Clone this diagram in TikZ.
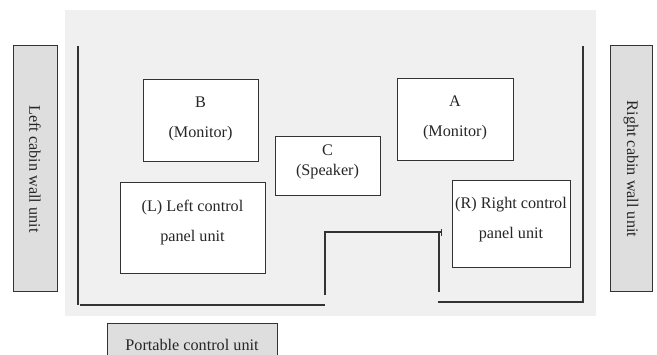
\documentclass[tikz,border=0pt]{standalone}
\usepackage{fontspec}
\setmainfont{Liberation Serif}
\begin{document}
\begin{tikzpicture}[x=1pt,y=-1pt,
  unit/.style={draw=black!80,line width=1pt,fill=white,inner sep=0pt},
  utext/.style={align=center,text=black!85,inner sep=0pt,font=\fontsize{16.2}{30}\selectfont},
  wallunit/.style={draw=black!80,line width=1pt,fill=black!13,inner sep=0pt},
  wtext/.style={text=black!85,font=\fontsize{16.2}{18}\selectfont},
  wall/.style={draw=black!80,line width=1.2pt}]
\useasboundingbox (0,0) rectangle (657,355);
\fill[black!6] (65,10) rectangle (596,316);
% wall units
\node[wallunit,minimum width=44pt,minimum height=246pt] (lw) at (35,169) {};
\node[wtext,rotate=-90] (lwt) at (lw.center) {Left cabin wall unit};
\node[wallunit,minimum width=42pt,minimum height=246pt] (rw) at (631,169) {};
\node[wtext,rotate=-90] (rwt) at (rw.center) {Right cabin wall unit};
% cabin walls
\coordinate (l1) at (78,46);
\coordinate (l2) at (78,305);
\coordinate (l3) at (80,305);
\coordinate (l4) at (325,305);
\draw[wall] (l1) -- (l2);
\draw[wall] (l3) -- (l4);
\coordinate (m1) at (325,295);
\coordinate (m2) at (325,232);
\coordinate (m3) at (441,232);
\coordinate (m4) at (439,232);
\coordinate (m5) at (439,292);
\coordinate (t1) at (441,229);
\coordinate (t2) at (441,236);
\draw[wall] (m1) -- (m2) -- (m3);
\draw[wall] (m4) -- (m5);
\draw[draw=black!80,line width=0.8pt] (t1) -- (t2);
\coordinate (r1) at (438,302);
\coordinate (r2) at (583,302);
\coordinate (r3) at (583,46);
\draw[wall] (r1) -- (r2) -- (r3);
% boxes
\node[unit,minimum width=115pt,minimum height=82pt] (B) at (200.5,121) {};
\node[utext,yshift=2.5pt] (Bt) at (B.center) {B\\(Monitor)};
\node[unit,minimum width=116pt,minimum height=82pt] (A) at (455,120) {};
\node[utext,yshift=2pt] (At) at (A.center) {A\\(Monitor)};
\node[unit,minimum width=105pt,minimum height=59pt] (C) at (327.5,166.5) {};
\node[utext,yshift=4.5pt,font=\fontsize{16.2}{20}\selectfont] (Ct) at (C.center) {C\\(Speaker)};
\node[unit,minimum width=145pt,minimum height=91pt] (L) at (192.5,228.5) {};
\node[utext,yshift=6pt] (Lt) at (L.center) {(L) Left control\\panel unit};
\node[unit,minimum width=118pt,minimum height=87pt] (R) at (511,224.5) {};
\node[utext,yshift=4.5pt] (Rt) at (R.center) {(R) Right control\\panel unit};
\node[wallunit,minimum width=170pt,minimum height=44pt,anchor=north west] (P) at (107,323) {};
\node[wtext] (Pt) at (192,345) {Portable control unit};
\end{tikzpicture}
\end{document}
